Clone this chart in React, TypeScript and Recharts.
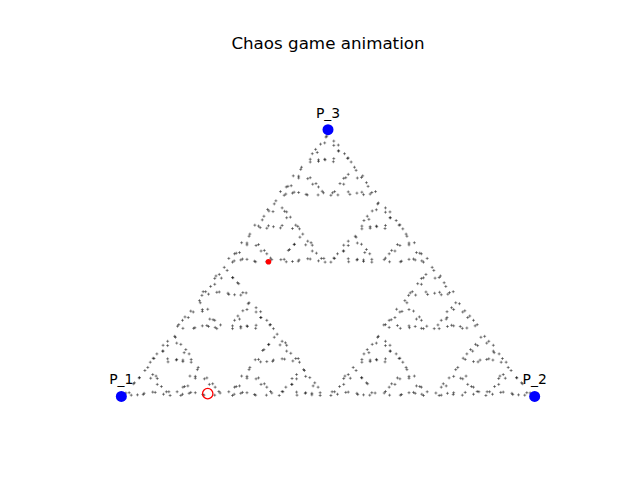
import { ScatterChart, Scatter, XAxis, YAxis } from 'recharts';

// Chaos game on the triangle P_1, P_2, P_3.
const vertexNames = ['P_1', 'P_2', 'P_3'];
const vertexX = [0, 1, 0.5];
const vertexY = [0, 0, 0.866];

// current point (red dot) and the last marked point (hollow red circle)
const currentPoint = [0.356, 0.437];
const markedPoint = [0.209, 0.009];

// visited points, lower-left part of the triangle
const pointsLeft: number[][] = [
  [0.011, 0.011], [0.053, 0.006], [0.029, 0.041], [0.082, 0.013], [0.102, 0.007], [0.097, 0.032],
  [0.043, 0.06], [0.084, 0.066], [0.064, 0.094], [0.024, 0.004], [0.115, 0.015], [0.071, 0.059],
  [0.109, 0.015], [0.076, 0.014], [0.087, 0.039], [0.039, 0.005], [0.019, 0.012], [0.032, 0.044],
  [0.076, 0.071], [0.044, 0.061], [0.057, 0.084], [0.087, 0.058], [0.055, 0.01], [0.118, 0.003],
  [0.144, 0.003], [0.164, 0.01], [0.161, 0.034], [0.2, 0.004], [0.236, 0.016], [0.213, 0.039],
  [0.179, 0.065], [0.201, 0.057], [0.184, 0.087], [0.149, 0.03], [0.227, 0.03], [0.179, 0.012],
  [0.239, 0.011], [0.197, 0.006], [0.221, 0.041], [0.168, 0.013], [0.148, 0.007], [0.153, 0.032],
  [0.207, 0.06], [0.166, 0.066], [0.186, 0.094], [0.226, 0.004], [0.135, 0.015], [0.179, 0.059],
  [0.079, 0.123], [0.112, 0.122], [0.101, 0.147], [0.149, 0.113], [0.169, 0.12], [0.156, 0.152],
  [0.112, 0.179], [0.144, 0.169], [0.131, 0.192], [0.101, 0.166], [0.133, 0.118], [0.07, 0.111],
  [0.169, 0.111], [0.149, 0.118], [0.152, 0.142], [0.113, 0.112], [0.077, 0.124], [0.1, 0.147],
  [0.134, 0.173], [0.112, 0.165], [0.129, 0.195], [0.164, 0.138], [0.086, 0.138], [0.134, 0.12],
  [0.364, 0.011], [0.322, 0.006], [0.346, 0.041], [0.293, 0.013], [0.273, 0.007], [0.278, 0.032],
  [0.332, 0.06], [0.291, 0.066], [0.311, 0.094], [0.351, 0.004], [0.26, 0.015], [0.304, 0.059],
  [0.269, 0.003], [0.289, 0.01], [0.286, 0.034], [0.325, 0.004], [0.361, 0.016], [0.338, 0.039],
  [0.304, 0.065], [0.326, 0.057], [0.309, 0.087], [0.274, 0.03], [0.352, 0.03], [0.304, 0.012],
  [0.481, 0.003], [0.461, 0.01], [0.464, 0.034], [0.425, 0.004], [0.389, 0.016], [0.412, 0.039],
  [0.446, 0.065], [0.424, 0.057], [0.441, 0.087], [0.476, 0.03], [0.398, 0.03], [0.446, 0.012],
  [0.391, 0.015], [0.424, 0.014], [0.413, 0.039], [0.461, 0.005], [0.481, 0.012], [0.468, 0.044],
  [0.424, 0.071], [0.456, 0.061], [0.443, 0.084], [0.413, 0.058], [0.445, 0.01], [0.382, 0.003],
  [0.422, 0.123], [0.389, 0.122], [0.4, 0.147], [0.352, 0.113], [0.332, 0.12], [0.345, 0.152],
  [0.389, 0.179], [0.357, 0.169], [0.37, 0.192], [0.4, 0.166], [0.368, 0.118], [0.431, 0.111],
  [0.324, 0.119], [0.366, 0.114], [0.342, 0.149], [0.395, 0.121], [0.415, 0.115], [0.41, 0.14],
  [0.356, 0.168], [0.397, 0.174], [0.377, 0.202], [0.337, 0.112], [0.428, 0.123], [0.384, 0.167],
  [0.136, 0.228], [0.178, 0.223], [0.154, 0.258], [0.207, 0.23], [0.227, 0.224], [0.222, 0.249],
  [0.168, 0.277], [0.209, 0.283], [0.189, 0.311], [0.149, 0.221], [0.24, 0.232], [0.196, 0.276],
  [0.231, 0.22], [0.211, 0.227], [0.214, 0.251], [0.175, 0.221], [0.139, 0.233], [0.162, 0.256],
  [0.196, 0.282], [0.174, 0.274], [0.191, 0.304], [0.226, 0.247], [0.148, 0.247], [0.196, 0.229],
  [0.269, 0.22], [0.289, 0.227], [0.286, 0.251], [0.325, 0.221], [0.361, 0.233], [0.338, 0.256],
  [0.304, 0.282], [0.326, 0.274], [0.309, 0.304], [0.274, 0.247], [0.352, 0.247], [0.304, 0.229],
  [0.359, 0.232], [0.326, 0.231], [0.337, 0.256], [0.289, 0.222], [0.269, 0.229], [0.282, 0.261],
  [0.326, 0.288], [0.294, 0.278], [0.307, 0.301], [0.337, 0.275], [0.305, 0.227], [0.368, 0.22],
  [0.204, 0.34], [0.237, 0.339], [0.226, 0.364], [0.274, 0.33], [0.294, 0.337], [0.281, 0.369],
  [0.237, 0.396], [0.269, 0.386], [0.256, 0.409], [0.226, 0.383], [0.258, 0.335], [0.195, 0.328],
  [0.302, 0.336], [0.26, 0.331], [0.284, 0.366], [0.231, 0.338], [0.211, 0.332], [0.216, 0.357],
  [0.27, 0.385], [0.229, 0.391], [0.249, 0.419], [0.289, 0.329], [0.198, 0.34], [0.242, 0.384],
];

// visited points, lower-right part
const pointsRight: number[][] = [
  [0.614, 0.011], [0.572, 0.006], [0.596, 0.041], [0.543, 0.013], [0.523, 0.007], [0.528, 0.032],
  [0.582, 0.06], [0.541, 0.066], [0.561, 0.094], [0.601, 0.004], [0.51, 0.015], [0.554, 0.059],
  [0.516, 0.015], [0.549, 0.014], [0.538, 0.039], [0.586, 0.005], [0.606, 0.012], [0.593, 0.044],
  [0.549, 0.071], [0.581, 0.061], [0.568, 0.084], [0.538, 0.058], [0.57, 0.01], [0.507, 0.003],
  [0.731, 0.003], [0.711, 0.01], [0.714, 0.034], [0.675, 0.004], [0.639, 0.016], [0.662, 0.039],
  [0.696, 0.065], [0.674, 0.057], [0.691, 0.087], [0.726, 0.03], [0.648, 0.03], [0.696, 0.012],
  [0.636, 0.011], [0.678, 0.006], [0.654, 0.041], [0.707, 0.013], [0.727, 0.007], [0.722, 0.032],
  [0.668, 0.06], [0.709, 0.066], [0.689, 0.094], [0.649, 0.004], [0.74, 0.015], [0.696, 0.059],
  [0.672, 0.123], [0.639, 0.122], [0.65, 0.147], [0.602, 0.113], [0.582, 0.12], [0.595, 0.152],
  [0.639, 0.179], [0.607, 0.169], [0.62, 0.192], [0.65, 0.166], [0.618, 0.118], [0.681, 0.111],
  [0.582, 0.111], [0.602, 0.118], [0.599, 0.142], [0.638, 0.112], [0.674, 0.124], [0.651, 0.147],
  [0.617, 0.173], [0.639, 0.165], [0.622, 0.195], [0.587, 0.138], [0.665, 0.138], [0.617, 0.12],
  [0.761, 0.011], [0.803, 0.006], [0.779, 0.041], [0.832, 0.013], [0.852, 0.007], [0.847, 0.032],
  [0.793, 0.06], [0.834, 0.066], [0.814, 0.094], [0.774, 0.004], [0.865, 0.015], [0.821, 0.059],
  [0.769, 0.003], [0.789, 0.01], [0.786, 0.034], [0.825, 0.004], [0.861, 0.016], [0.838, 0.039],
  [0.804, 0.065], [0.826, 0.057], [0.809, 0.087], [0.774, 0.03], [0.852, 0.03], [0.804, 0.012],
  [0.891, 0.015], [0.924, 0.014], [0.913, 0.039], [0.961, 0.005], [0.981, 0.012], [0.968, 0.044],
  [0.924, 0.071], [0.956, 0.061], [0.943, 0.084], [0.913, 0.058], [0.945, 0.01], [0.882, 0.003],
  [0.989, 0.011], [0.947, 0.006], [0.971, 0.041], [0.918, 0.013], [0.898, 0.007], [0.903, 0.032],
  [0.957, 0.06], [0.916, 0.066], [0.936, 0.094], [0.976, 0.004], [0.885, 0.015], [0.929, 0.059],
  [0.919, 0.111], [0.899, 0.118], [0.902, 0.142], [0.863, 0.112], [0.827, 0.124], [0.85, 0.147],
  [0.884, 0.173], [0.862, 0.165], [0.879, 0.195], [0.914, 0.138], [0.836, 0.138], [0.884, 0.12],
  [0.922, 0.123], [0.889, 0.122], [0.9, 0.147], [0.852, 0.113], [0.832, 0.12], [0.845, 0.152],
  [0.889, 0.179], [0.857, 0.169], [0.87, 0.192], [0.9, 0.166], [0.868, 0.118], [0.931, 0.111],
  [0.739, 0.228], [0.697, 0.223], [0.721, 0.258], [0.668, 0.23], [0.648, 0.224], [0.653, 0.249],
  [0.707, 0.277], [0.666, 0.283], [0.686, 0.311], [0.726, 0.221], [0.635, 0.232], [0.679, 0.276],
  [0.731, 0.22], [0.711, 0.227], [0.714, 0.251], [0.675, 0.221], [0.639, 0.233], [0.662, 0.256],
  [0.696, 0.282], [0.674, 0.274], [0.691, 0.304], [0.726, 0.247], [0.648, 0.247], [0.696, 0.229],
  [0.766, 0.232], [0.799, 0.231], [0.788, 0.256], [0.836, 0.222], [0.856, 0.229], [0.843, 0.261],
  [0.799, 0.288], [0.831, 0.278], [0.818, 0.301], [0.788, 0.275], [0.82, 0.227], [0.757, 0.22],
  [0.769, 0.22], [0.789, 0.227], [0.786, 0.251], [0.825, 0.221], [0.861, 0.233], [0.838, 0.256],
  [0.804, 0.282], [0.826, 0.274], [0.809, 0.304], [0.774, 0.247], [0.852, 0.247], [0.804, 0.229],
  [0.699, 0.336], [0.741, 0.331], [0.717, 0.366], [0.77, 0.338], [0.79, 0.332], [0.785, 0.357],
  [0.731, 0.385], [0.772, 0.391], [0.752, 0.419], [0.712, 0.329], [0.803, 0.34], [0.759, 0.384],
  [0.704, 0.34], [0.737, 0.339], [0.726, 0.364], [0.774, 0.33], [0.794, 0.337], [0.781, 0.369],
  [0.737, 0.396], [0.769, 0.386], [0.756, 0.409], [0.726, 0.383], [0.758, 0.335], [0.695, 0.328],
];

// visited points, top part
const pointsTop: number[][] = [
  [0.269, 0.436], [0.289, 0.443], [0.286, 0.467], [0.325, 0.437], [0.361, 0.449], [0.338, 0.472],
  [0.304, 0.498], [0.326, 0.49], [0.309, 0.52], [0.274, 0.463], [0.352, 0.463], [0.304, 0.445],
  [0.364, 0.444], [0.322, 0.439], [0.346, 0.474], [0.293, 0.446], [0.273, 0.44], [0.278, 0.465],
  [0.332, 0.493], [0.291, 0.499], [0.311, 0.527], [0.351, 0.437], [0.26, 0.448], [0.304, 0.492],
  [0.484, 0.448], [0.451, 0.447], [0.462, 0.472], [0.414, 0.438], [0.394, 0.445], [0.407, 0.477],
  [0.451, 0.504], [0.419, 0.494], [0.432, 0.517], [0.462, 0.491], [0.43, 0.443], [0.493, 0.436],
  [0.386, 0.444], [0.428, 0.439], [0.404, 0.474], [0.457, 0.446], [0.477, 0.44], [0.472, 0.465],
  [0.418, 0.493], [0.459, 0.499], [0.439, 0.527], [0.399, 0.437], [0.49, 0.448], [0.446, 0.492],
  [0.427, 0.552], [0.385, 0.547], [0.409, 0.582], [0.356, 0.554], [0.336, 0.548], [0.341, 0.573],
  [0.395, 0.601], [0.354, 0.607], [0.374, 0.635], [0.414, 0.545], [0.323, 0.556], [0.367, 0.6],
  [0.422, 0.556], [0.389, 0.555], [0.4, 0.58], [0.352, 0.546], [0.332, 0.553], [0.345, 0.585],
  [0.389, 0.612], [0.357, 0.602], [0.37, 0.625], [0.4, 0.599], [0.368, 0.551], [0.431, 0.544],
  [0.606, 0.436], [0.586, 0.443], [0.589, 0.467], [0.55, 0.437], [0.514, 0.449], [0.537, 0.472],
  [0.571, 0.498], [0.549, 0.49], [0.566, 0.52], [0.601, 0.463], [0.523, 0.463], [0.571, 0.445],
  [0.516, 0.448], [0.549, 0.447], [0.538, 0.472], [0.586, 0.438], [0.606, 0.445], [0.593, 0.477],
  [0.549, 0.504], [0.581, 0.494], [0.568, 0.517], [0.538, 0.491], [0.57, 0.443], [0.507, 0.436],
  [0.636, 0.444], [0.678, 0.439], [0.654, 0.474], [0.707, 0.446], [0.727, 0.44], [0.722, 0.465],
  [0.668, 0.493], [0.709, 0.499], [0.689, 0.527], [0.649, 0.437], [0.74, 0.448], [0.696, 0.492],
  [0.731, 0.436], [0.711, 0.443], [0.714, 0.467], [0.675, 0.437], [0.639, 0.449], [0.662, 0.472],
  [0.696, 0.498], [0.674, 0.49], [0.691, 0.52], [0.726, 0.463], [0.648, 0.463], [0.696, 0.445],
  [0.672, 0.556], [0.639, 0.555], [0.65, 0.58], [0.602, 0.546], [0.582, 0.553], [0.595, 0.585],
  [0.639, 0.612], [0.607, 0.602], [0.62, 0.625], [0.65, 0.599], [0.618, 0.551], [0.681, 0.544],
  [0.582, 0.544], [0.602, 0.551], [0.599, 0.575], [0.638, 0.545], [0.674, 0.557], [0.651, 0.58],
  [0.617, 0.606], [0.639, 0.598], [0.622, 0.628], [0.587, 0.571], [0.665, 0.571], [0.617, 0.553],
  [0.489, 0.661], [0.447, 0.656], [0.471, 0.691], [0.418, 0.663], [0.398, 0.657], [0.403, 0.682],
  [0.457, 0.71], [0.416, 0.716], [0.436, 0.744], [0.476, 0.654], [0.385, 0.665], [0.429, 0.709],
  [0.394, 0.653], [0.414, 0.66], [0.411, 0.684], [0.45, 0.654], [0.486, 0.666], [0.463, 0.689],
  [0.429, 0.715], [0.451, 0.707], [0.434, 0.737], [0.399, 0.68], [0.477, 0.68], [0.429, 0.662],
  [0.516, 0.665], [0.549, 0.664], [0.538, 0.689], [0.586, 0.655], [0.606, 0.662], [0.593, 0.694],
  [0.549, 0.721], [0.581, 0.711], [0.568, 0.734], [0.538, 0.708], [0.57, 0.66], [0.507, 0.653],
  [0.511, 0.661], [0.553, 0.656], [0.529, 0.691], [0.582, 0.663], [0.602, 0.657], [0.597, 0.682],
  [0.543, 0.71], [0.584, 0.716], [0.564, 0.744], [0.524, 0.654], [0.615, 0.665], [0.571, 0.709],
  [0.457, 0.761], [0.477, 0.768], [0.474, 0.792], [0.513, 0.762], [0.549, 0.774], [0.526, 0.797],
  [0.492, 0.823], [0.514, 0.815], [0.497, 0.845], [0.462, 0.788], [0.54, 0.788], [0.492, 0.77],
  [0.547, 0.773], [0.514, 0.772], [0.525, 0.797], [0.477, 0.763], [0.457, 0.77], [0.47, 0.802],
  [0.514, 0.829], [0.482, 0.819], [0.495, 0.842], [0.525, 0.816], [0.493, 0.768], [0.556, 0.761],
];

const FONT = '"DejaVu Sans", sans-serif';

const visited = [...pointsLeft, ...pointsRight, ...pointsTop].map(([x, y]) => ({ x, y }));
const vertices = vertexNames.map((name, i) => ({ x: vertexX[i], y: vertexY[i], name }));

const PlusMark = (props: any) => {
  const { cx, cy } = props;
  return (
    <path
      d={`M${cx - 1.5},${cy}h3M${cx},${cy - 1.5}v3`}
      stroke="#000"
      strokeOpacity={0.45}
      strokeWidth={1}
      fill="none"
    />
  );
};

const VertexMark = (props: any) => {
  const { cx, cy, payload } = props;
  return (
    <g>
      <circle cx={cx} cy={cy} r={5.5} fill="#0000ff" />
      <text x={cx} y={cy - 12} textAnchor="middle" fontFamily={FONT} fontSize={13.9} fill="#000">
        {payload.name}
      </text>
    </g>
  );
};

const CurrentMark = (props: any) => <circle cx={props.cx} cy={props.cy} r={2.8} fill="#ff0000" />;

const MarkedMark = (props: any) => (
  <circle cx={props.cx} cy={props.cy} r={5.2} fill="none" stroke="#ff0000" strokeWidth={1.3} />
);

export default function App() {
  return (
    <div style={{ position: 'absolute', left: 0, top: 0, width: 640, height: 480, background: '#fff' }}>
      <svg width={640} height={480} style={{ position: 'absolute', left: 0, top: 0 }}>
        <text x={328} y={49.3} textAnchor="middle" fontFamily={FONT} fontSize={16.7} fill="#000">
          Chaos game animation
        </text>
      </svg>
      <div style={{ position: 'absolute', left: 0, top: 0 }}>
        <ScatterChart width={640} height={480} margin={{ top: 57.6, right: 64, bottom: 52.8, left: 80 }}>
          <XAxis type="number" dataKey="x" domain={[-0.1, 1.1]} hide />
          <YAxis type="number" dataKey="y" domain={[-0.1, 1.1]} hide />
          <Scatter data={visited} shape={PlusMark} isAnimationActive={false} />
          <Scatter data={vertices} shape={VertexMark} isAnimationActive={false} />
          <Scatter data={[{ x: currentPoint[0], y: currentPoint[1] }]} shape={CurrentMark} isAnimationActive={false} />
          <Scatter data={[{ x: markedPoint[0], y: markedPoint[1] }]} shape={MarkedMark} isAnimationActive={false} />
        </ScatterChart>
      </div>
    </div>
  );
}
